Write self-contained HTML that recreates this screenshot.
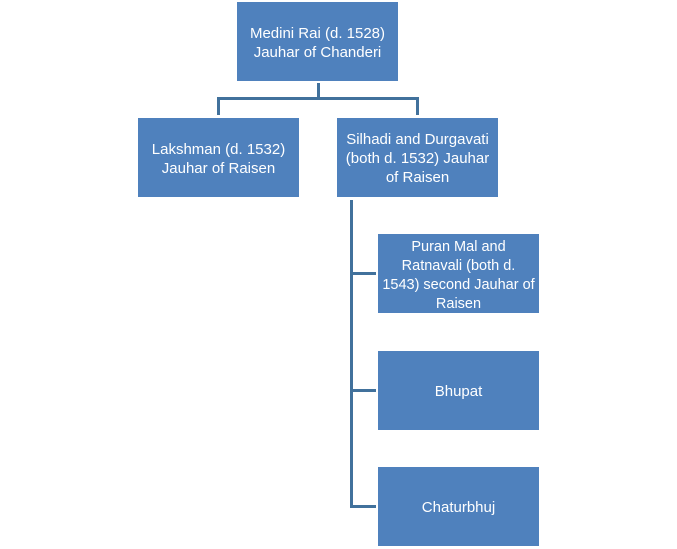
<!DOCTYPE html>
<html><head><style>
body{margin:0;width:677px;height:549px;background:#fff;position:relative;overflow:hidden;font-family:"Liberation Sans",sans-serif;}
.b{position:absolute;width:161px;height:79px;background:#4f81bd;color:#fff;display:flex;align-items:center;justify-content:center;text-align:center;font-size:15px;line-height:19px;box-sizing:border-box;white-space:nowrap;padding-top:2px;}
.l{position:absolute;background:#41719c;}
</style></head><body>
<div class="b" style="left:237px;top:2px">Medini Rai (d. 1528)<br>Jauhar of Chanderi</div>
<div class="b" style="left:138px;top:118px">Lakshman (d. 1532)<br>Jauhar of Raisen</div>
<div class="b" style="left:337px;top:118px">Silhadi and Durgavati<br>(both d. 1532) Jauhar<br>of Raisen</div>
<div class="b" style="left:378px;top:234px;font-size:14.5px;padding-top:4px">Puran Mal and<br>Ratnavali (both d.<br>1543) second Jauhar of<br>Raisen</div>
<div class="b" style="left:378px;top:351px">Bhupat</div>
<div class="b" style="left:378px;top:467px">Chaturbhuj</div>
<div class="l" style="left:317px;top:83px;width:3px;height:16px"></div>
<div class="l" style="left:217px;top:97px;width:202px;height:3px"></div>
<div class="l" style="left:217px;top:97px;width:3px;height:18px"></div>
<div class="l" style="left:416px;top:97px;width:3px;height:18px"></div>
<div class="l" style="left:350px;top:200px;width:3px;height:308px"></div>
<div class="l" style="left:350px;top:272px;width:26px;height:3px"></div>
<div class="l" style="left:350px;top:389px;width:26px;height:3px"></div>
<div class="l" style="left:350px;top:505px;width:26px;height:3px"></div>
</body></html>
